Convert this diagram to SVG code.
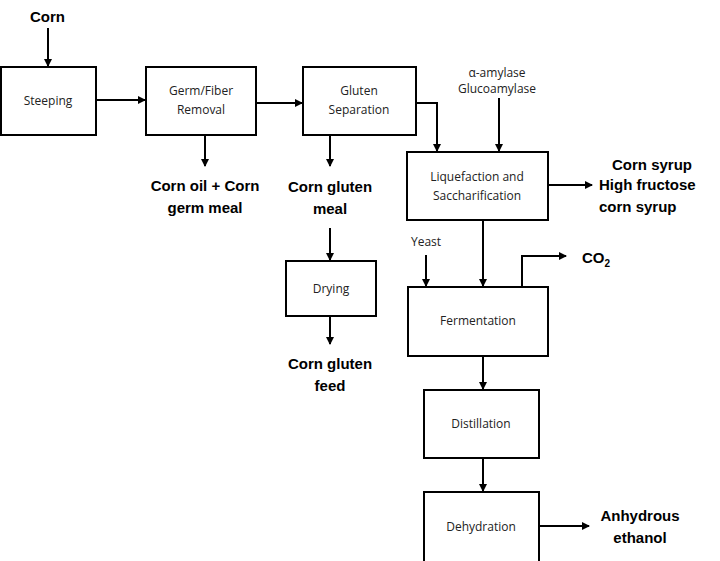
<svg xmlns="http://www.w3.org/2000/svg" width="720" height="561" viewBox="0 0 720 561">
<style>
.b{fill:#fff;stroke:#000;stroke-width:2}
.t{font-family:"Open Sans","Liberation Sans",sans-serif;font-size:12px;text-anchor:middle;fill:#222}
.o{font-family:"Liberation Sans",sans-serif;font-size:15px;font-weight:bold;fill:#000}
.c path{fill:none;stroke:#000;stroke-width:2;marker-end:url(#a)}
</style>
<defs><marker id="a" markerWidth="8" markerHeight="8" refX="7" refY="4" orient="auto" markerUnits="userSpaceOnUse"><path d="M0,0L8,4L0,8z" fill="#000"/></marker></defs>
<rect width="720" height="561" fill="#fff"/>
<g class="c">
<path d="M48,28V66"/><path d="M96,100H145"/><path d="M256,103H302"/><path d="M416,103H437V151"/>
<path d="M499,98V151"/><path d="M205,135V166"/><path d="M330,135V166"/><path d="M330,228V260"/>
<path d="M330,316V344"/><path d="M548,185H592"/><path d="M483,220V286"/><path d="M426,255V286"/>
<path d="M522,287V256H566"/><path d="M483,356V389"/><path d="M483,458V491"/><path d="M539,526H589"/>
</g>
<g id="steeping"><rect class="b" x="1" y="67" width="95" height="68"/><text class="t" x="48" y="105">Steeping</text></g>
<g id="germ"><rect class="b" x="146" y="67" width="110" height="68"/><text class="t" x="201" y="95">Germ/Fiber</text><text class="t" x="201" y="114">Removal</text></g>
<g id="gluten"><rect class="b" x="303" y="67" width="113" height="68"/><text class="t" x="359" y="95">Gluten</text><text class="t" x="359" y="114">Separation</text></g>
<g id="liq"><rect class="b" x="407" y="152" width="141" height="68"/><text class="t" x="477" y="181">Liquefaction and</text><text class="t" x="477" y="200">Saccharification</text></g>
<g id="drying"><rect class="b" x="286" y="261" width="90" height="55"/><text class="t" x="331" y="293">Drying</text></g>
<g id="ferm"><rect class="b" x="408" y="287" width="140" height="69"/><text class="t" x="478" y="325">Fermentation</text></g>
<g id="dist"><rect class="b" x="424" y="390" width="115" height="68"/><text class="t" x="481" y="428">Distillation</text></g>
<g id="dehy"><rect class="b" x="424" y="492" width="115" height="70"/><text class="t" x="481" y="531">Dehydration</text></g>
<text class="o" x="30" y="22">Corn</text>
<text class="t" x="497" y="77" font-size="11">α-amylase</text><text class="t" x="497" y="93" font-size="11">Glucoamylase</text>
<text class="o" x="205" y="191" text-anchor="middle">Corn oil + Corn</text><text class="o" x="205" y="213" text-anchor="middle">germ meal</text>
<text class="o" x="330" y="192" text-anchor="middle">Corn gluten</text><text class="o" x="330" y="214" text-anchor="middle">meal</text>
<text class="o" x="330" y="369" text-anchor="middle">Corn gluten</text><text class="o" x="330" y="391" text-anchor="middle">feed</text>
<text class="o" x="612" y="170">Corn syrup</text><text class="o" x="599" y="190">High fructose</text><text class="o" x="599" y="212">corn syrup</text>
<text class="t" x="426" y="246">Yeast</text>
<text class="o" x="582" y="263">CO<tspan font-size="10" dy="4">2</tspan></text>
<text class="o" x="640" y="521" text-anchor="middle">Anhydrous</text><text class="o" x="640" y="543" text-anchor="middle">ethanol</text>
</svg>
